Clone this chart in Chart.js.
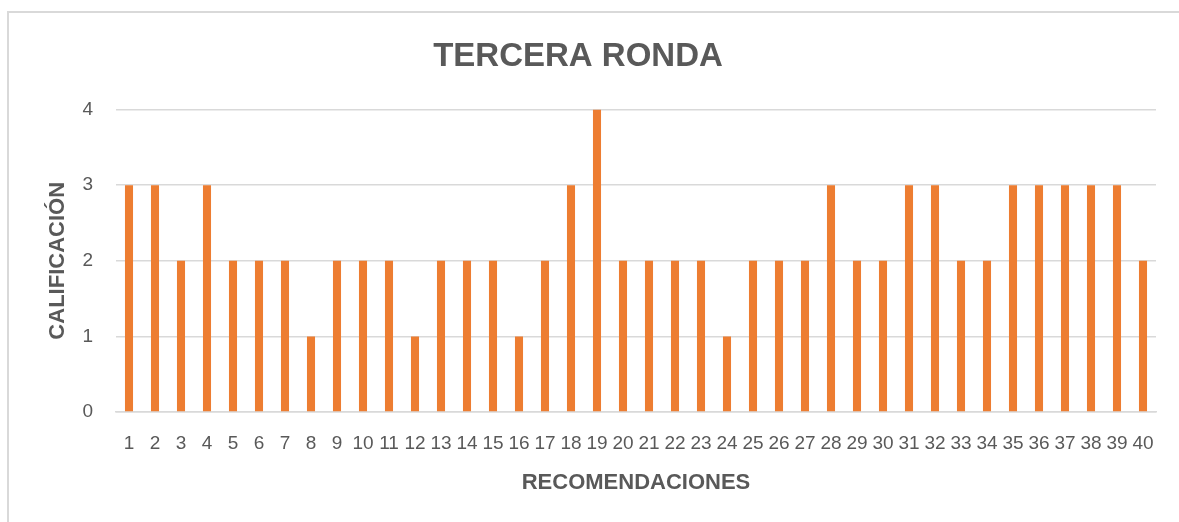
<!DOCTYPE html>
<html>
<head>
<meta charset="utf-8">
<script src="https://cdn.jsdelivr.net/npm/chart.js@4"></script>
<style>
  html, body { margin: 0; padding: 0; background: #fff; overflow: hidden; }
  #frame { position: absolute; left: 7px; top: 11px; width: 1300px; height: 600px; border: 2px solid #d9d9d9; }
  #wrap { position: absolute; left: 0; top: 0; width: 1179px; height: 522px; }
</style>
</head>
<body>
<div id="frame"></div>
<div id="wrap"><canvas id="chart"></canvas></div>
<script>
const categories = ['1','2','3','4','5','6','7','8','9','10','11','12','13','14','15','16','17','18','19','20',
                    '21','22','23','24','25','26','27','28','29','30','31','32','33','34','35','36','37','38','39','40'];
const scores = [3, 3, 2, 3, 2, 2, 2, 1, 2, 2, 2, 1, 2, 2, 2, 1, 2, 3, 4, 2,
                2, 2, 2, 1, 2, 2, 2, 3, 2, 2, 3, 3, 2, 2, 3, 3, 3, 3, 3, 2];
const yTicks = [0, 1, 2, 3, 4];

const textColor = '#595959';
const gridColor = '#d9d9d9';
const fontFamily = "'Liberation Sans', Arial, sans-serif";

const ctx = document.getElementById('chart').getContext('2d');
new Chart(ctx, {
    type: 'bar',
    data: {
        labels: categories,
        datasets: [{
            label: 'Calificación',
            data: scores,
            backgroundColor: '#ED7D31',
            barPercentage: 0.31,
            categoryPercentage: 1
        }]
    },
    options: {
        responsive: true,
        maintainAspectRatio: false,
        animation: false,
        layout: { padding: { left: 0, right: 23, top: 0, bottom: 26 } },
        plugins: {
            legend: { display: false },
            tooltip: { enabled: false },
            title: {
                display: true,
                text: 'TERCERA RONDA',
                color: textColor,
                font: { family: fontFamily, size: 33, weight: 'bold' },
                padding: { top: 37, bottom: 33 }
            }
        },
        scales: {
            x: {
                afterFit: (scale) => { scale.height = 84; },
                grid: { display: false, drawTicks: false },
                border: { color: gridColor, width: 1.5 },
                ticks: {
                    color: textColor,
                    font: { family: fontFamily, size: 19 },
                    padding: 20,
                    autoSkip: false,
                    maxRotation: 0,
                    minRotation: 0
                },
                title: {
                    display: true,
                    text: 'RECOMENDACIONES',
                    color: textColor,
                    font: { family: fontFamily, size: 22, weight: 'bold' },
                    padding: { top: 0, bottom: 0 }
                }
            },
            y: {
                min: 0,
                max: 4,
                afterFit: (scale) => { scale.width = 116; },
                afterBuildTicks: (scale) => { scale.ticks = yTicks.map(v => ({ value: v })); },
                grid: { color: gridColor, lineWidth: 1.5, drawTicks: false },
                border: { display: false },
                ticks: {
                    color: textColor,
                    font: { family: fontFamily, size: 19 },
                    padding: 23,
                    stepSize: 1
                },
                title: {
                    display: true,
                    text: 'CALIFICACIÓN',
                    color: textColor,
                    font: { family: fontFamily, size: 22, weight: 'bold' },
                    padding: { top: 45, bottom: 0 }
                }
            }
        }
    }
});
</script>
</body>
</html>
